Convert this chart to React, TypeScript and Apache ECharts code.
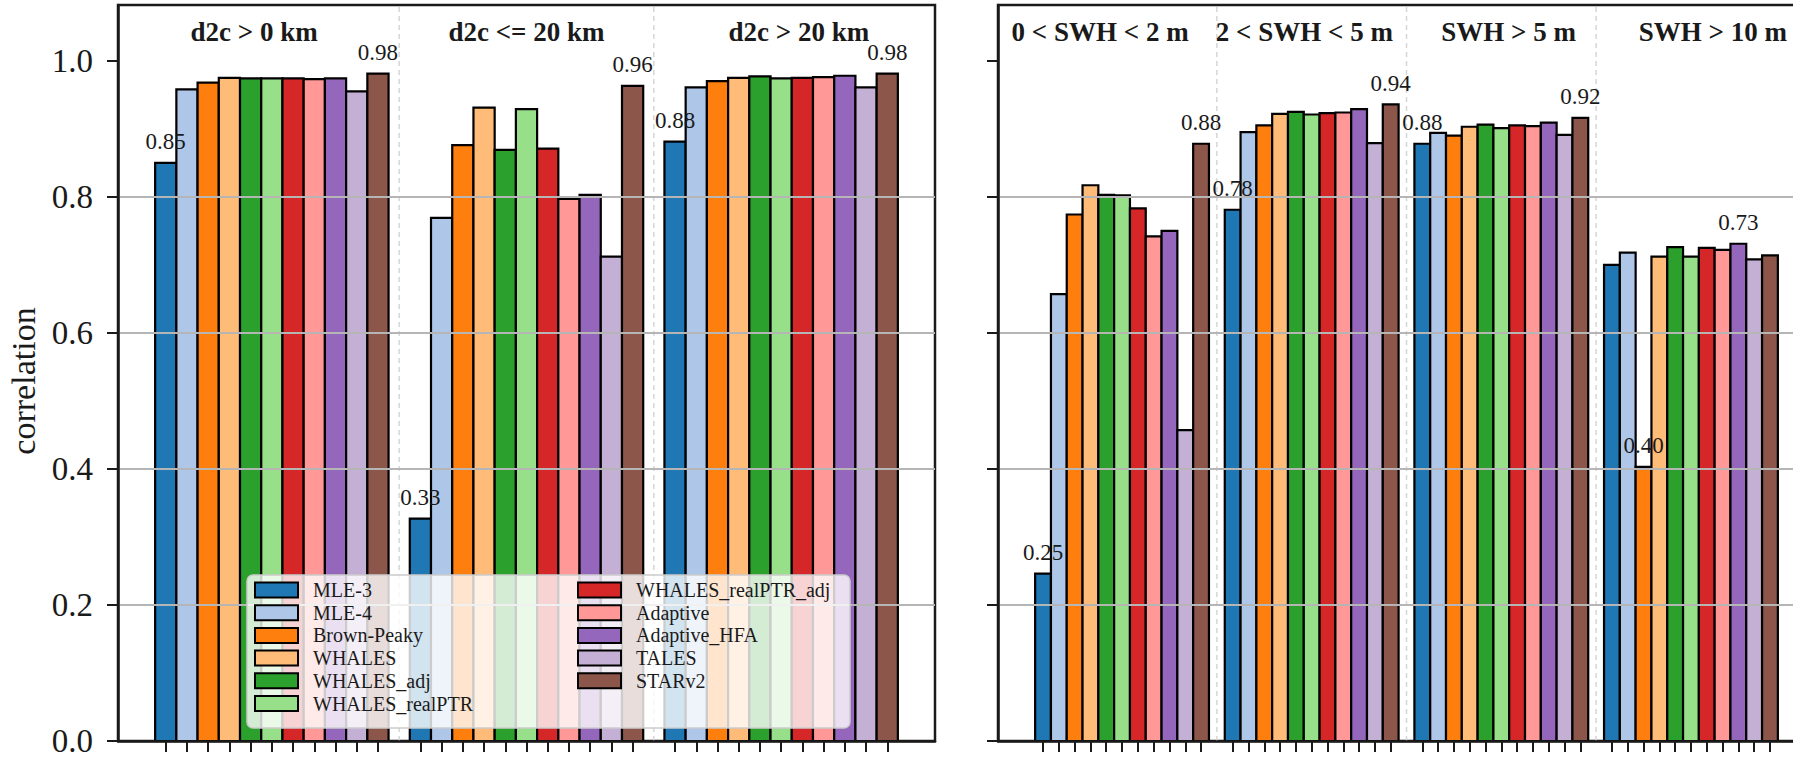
import { useEffect, useRef } from "react";
import * as echarts from "echarts";

// Retrackers compared in every group (legend order)
const METHODS = [
  "MLE-3",
  "MLE-4",
  "Brown-Peaky",
  "WHALES",
  "WHALES_adj",
  "WHALES_realPTR",
  "WHALES_realPTR_adj",
  "Adaptive",
  "Adaptive_HFA",
  "TALES",
  "STARv2",
];

const COLORS = [
  "#1f77b4",
  "#aec7e8",
  "#ff7f0e",
  "#ffbb78",
  "#2ca02c",
  "#98df8a",
  "#d62728",
  "#ff9896",
  "#9467bd",
  "#c5b0d5",
  "#8c564b",
];

// Left panel: distance-to-coast classes
const D2C_GROUPS = ["d2c > 0 km", "d2c <= 20 km", "d2c > 20 km"];
const D2C_ALL = [0.85, 0.958, 0.968, 0.975, 0.974, 0.974, 0.974, 0.973, 0.974, 0.955, 0.981];
const D2C_LE20 = [0.327, 0.769, 0.876, 0.931, 0.869, 0.929, 0.871, 0.797, 0.803, 0.712, 0.963];
const D2C_GT20 = [0.881, 0.961, 0.97, 0.975, 0.977, 0.974, 0.975, 0.976, 0.978, 0.961, 0.981];

// Right panel: significant wave height classes
const SWH_GROUPS = ["0 < SWH < 2 m", "2 < SWH < 5 m", "SWH > 5 m", "SWH > 10 m"];
const SWH_0_2 = [0.246, 0.657, 0.774, 0.817, 0.803, 0.802, 0.783, 0.742, 0.75, 0.457, 0.878];
const SWH_2_5 = [0.781, 0.895, 0.905, 0.922, 0.925, 0.921, 0.923, 0.924, 0.929, 0.879, 0.936];
const SWH_GT5 = [0.878, 0.894, 0.89, 0.903, 0.906, 0.901, 0.905, 0.904, 0.909, 0.891, 0.916];
const SWH_GT10 = [0.7, 0.718, 0.403, 0.712, 0.726, 0.712, 0.725, 0.722, 0.731, 0.708, 0.714];

const D2C_VALUES = [D2C_ALL, D2C_LE20, D2C_GT20];
const SWH_VALUES = [SWH_0_2, SWH_2_5, SWH_GT5, SWH_GT10];

const Y_TICKS = [0, 0.2, 0.4, 0.6, 0.8, 1.0];
const Y_MAX = 1.082;
const TITLE_Y = 1.0426;

const SLOTS_PER_GROUP = METHODS.length + 1;
const FONT = '"Liberation Serif", "DejaVu Serif", serif';
const INK = "#1a1a1a";

const slot = (g: number, m: number) => g * SLOTS_PER_GROUP + m;

// x extent of a panel: bars of width 1 centred on integer slots, 5% margins
function xExtent(nGroups: number) {
  const n = nGroups * SLOTS_PER_GROUP - 1;
  const margin = n * 0.05;
  return [-0.5 - margin, n - 0.5 + margin];
}

function barPositions(nGroups: number) {
  const out: number[] = [];
  for (let g = 0; g < nGroups; g++) for (let m = 0; m < METHODS.length; m++) out.push(slot(g, m));
  return out;
}

function barSeries(panel: number, groups: number[][]) {
  return METHODS.map((name, m) => ({
    type: "custom",
    name,
    xAxisIndex: panel,
    yAxisIndex: panel,
    z: 2,
    itemStyle: { color: COLORS[m], borderColor: "#000", borderWidth: 2 },
    data: groups.map((vals, g) => [slot(g, m), vals[m]]),
    renderItem: (_params: any, api: any) => {
      const x = api.value(0);
      const v = api.value(1);
      const a = api.coord([x - 0.5, v]);
      const b = api.coord([x + 0.5, 0]);
      return {
        type: "rect",
        shape: { x: a[0], y: a[1], width: b[0] - a[0], height: b[1] - a[1] },
        style: { fill: COLORS[m], stroke: "#000", lineWidth: 2.2 },
      };
    },
  }));
}

// Value labels on the lowest and highest bar of each group
function labelSeries(panel: number, groups: number[][]) {
  const pts: number[][] = [];
  groups.forEach((vals, g) => {
    const lo = vals.indexOf(Math.min(...vals));
    const hi = vals.indexOf(Math.max(...vals));
    [lo, hi].forEach((m) => pts.push([slot(g, m), vals[m]]));
  });
  return {
    type: "custom",
    xAxisIndex: panel,
    yAxisIndex: panel,
    z: 5,
    silent: true,
    data: pts,
    renderItem: (_params: any, api: any) => {
      const v = api.value(1);
      const p = api.coord([api.value(0), v]);
      return {
        type: "text",
        x: p[0],
        y: p[1] - 21,
        style: {
          text: v.toFixed(2),
          fill: INK,
          font: `23px ${FONT}`,
          align: "center",
          verticalAlign: "middle",
        },
      };
    },
  };
}

// Group titles sit at equal fractions of the panel width
function titleSeries(panel: number, titles: string[]) {
  const [x0, x1] = xExtent(titles.length);
  return {
    type: "custom",
    xAxisIndex: panel,
    yAxisIndex: panel,
    z: 5,
    silent: true,
    data: titles.map((_t, g) => [x0 + ((2 * g + 1) / (2 * titles.length)) * (x1 - x0), TITLE_Y]),
    renderItem: (params: any, api: any) => {
      const p = api.coord([api.value(0), api.value(1)]);
      return {
        type: "text",
        x: p[0],
        y: p[1],
        style: {
          text: titles[params.dataIndex],
          fill: INK,
          font: `bold 27px ${FONT}`,
          align: "center",
          verticalAlign: "middle",
        },
      };
    },
  };
}

function separatorSeries(panel: number, nGroups: number) {
  const xs: number[][] = [];
  for (let g = 0; g < nGroups - 1; g++) xs.push([slot(g, METHODS.length), 0]);
  return {
    type: "custom",
    xAxisIndex: panel,
    yAxisIndex: panel,
    z: 1,
    silent: true,
    data: xs,
    renderItem: (_params: any, api: any) => {
      const x = api.value(0);
      const a = api.coord([x, 0]);
      const b = api.coord([x, Y_MAX]);
      return {
        type: "line",
        shape: { x1: a[0], y1: a[1], x2: b[0], y2: b[1] },
        style: { stroke: "#d6d6d6", lineWidth: 1.5, lineDash: [5, 4] },
      };
    },
  };
}

function xAxis(panel: number, nGroups: number) {
  const [min, max] = xExtent(nGroups);
  return {
    type: "value",
    gridIndex: panel,
    min,
    max,
    z: 4,
    axisLine: { show: true, onZero: false, lineStyle: { color: INK, width: 2.5 } },
    axisTick: {
      show: true,
      length: 11,
      lineStyle: { color: INK, width: 2 },
      customValues: barPositions(nGroups),
    },
    axisLabel: { show: false },
    splitLine: { show: false },
  };
}

function yAxis(panel: number, withLabels: boolean) {
  return {
    type: "value",
    gridIndex: panel,
    min: 0,
    max: Y_MAX,
    interval: 0.2,
    z: 3,
    axisLine: { show: true, onZero: false, lineStyle: { color: INK, width: 2.5 } },
    axisTick: { show: true, length: 11, lineStyle: { color: INK, width: 2 }, customValues: Y_TICKS },
    axisLabel: {
      show: withLabels,
      customValues: Y_TICKS,
      fontFamily: FONT,
      fontSize: 33,
      color: INK,
      margin: 25,
      formatter: (v: number) => v.toFixed(1),
    },
    splitLine: {
      show: true,
      showMinLine: false,
      showMaxLine: false,
      lineStyle: { color: "#b5b5b5", width: 2 },
    },
  };
}

function legendColumn(names: string[], left: number) {
  return {
    data: names,
    orient: "vertical",
    left,
    top: 580,
    padding: 0,
    itemWidth: 43,
    itemHeight: 15,
    itemGap: 2.7,
    icon: "rect",
    selectedMode: false,
    z: 12,
    itemStyle: { borderColor: "#000", borderWidth: 2 },
    textStyle: { fontFamily: FONT, fontSize: 20, color: INK, padding: [0, 0, 0, 10] },
  };
}

export default function App() {
  const ref = useRef<HTMLDivElement>(null);

  useEffect(() => {
    if (!ref.current) return;
    const chart = echarts.init(ref.current, undefined, { renderer: "svg" });
    chart.setOption({
      animation: false,
      backgroundColor: "#ffffff",
      grid: [
        { left: 118, top: 5, width: 817, height: 736, show: true, borderColor: INK, borderWidth: 2.5 },
        { left: 998, top: 5, width: 817, height: 736, show: true, borderColor: INK, borderWidth: 2.5 },
      ],
      xAxis: [xAxis(0, D2C_GROUPS.length), xAxis(1, SWH_GROUPS.length)],
      yAxis: [yAxis(0, true), yAxis(1, false)],
      legend: [legendColumn(METHODS.slice(0, 6), 254), legendColumn(METHODS.slice(6), 577)],
      graphic: [
        {
          type: "text",
          x: 23,
          y: 381,
          rotation: Math.PI / 2,
          silent: true,
          style: {
            text: "correlation",
            fill: INK,
            font: `34px ${FONT}`,
            align: "center",
            verticalAlign: "middle",
          },
        },
        {
          type: "rect",
          z: 11,
          silent: true,
          shape: { x: 247, y: 575, width: 603, height: 153, r: 6 },
          style: { fill: "rgba(255,255,255,0.8)", stroke: "#cccccc", lineWidth: 1.5 },
        },
      ],
      series: [
        separatorSeries(0, D2C_GROUPS.length),
        separatorSeries(1, SWH_GROUPS.length),
        ...barSeries(0, D2C_VALUES),
        ...barSeries(1, SWH_VALUES),
        labelSeries(0, D2C_VALUES),
        labelSeries(1, SWH_VALUES),
        titleSeries(0, D2C_GROUPS),
        titleSeries(1, SWH_GROUPS),
      ],
    });
    return () => chart.dispose();
  }, []);

  return (
    <div
      style={{
        position: "fixed",
        left: 0,
        top: 0,
        width: 1793,
        height: 759,
        overflow: "hidden",
        background: "#fff",
      }}
    >
      <div ref={ref} style={{ width: 1830, height: 759 }} />
    </div>
  );
}
